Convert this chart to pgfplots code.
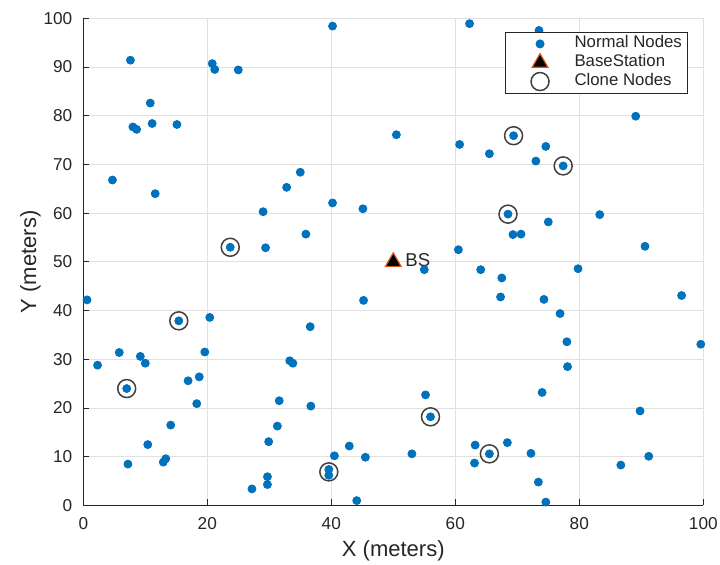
\documentclass[border=0pt]{standalone}
\usepackage{pgfplots}
\pgfplotsset{compat=1.18}
\usepackage{fontspec}
\setmainfont{Liberation Sans}
\definecolor{mblue}{rgb}{0,0.447,0.741}
\definecolor{morange}{rgb}{0.85,0.325,0.098}
\definecolor{mgray}{rgb}{0.15,0.15,0.15}
\pgfplotsset{legend image code/.code={\path (0pt,0pt) (31pt,0pt); \draw[#1] plot coordinates {(14pt,0pt)};}}

\begin{document}
\begin{tikzpicture}
\useasboundingbox (-41.65pt,-29.75pt) rectangle (318.35pt,252.75pt);
\begin{axis}[
    at={(0,0)}, anchor=south west,
    scale only axis,
    width=310pt, height=243.6pt,
    xmin=0, xmax=100, ymin=0, ymax=100,
    xtick={0,20,...,100},
    ytick={0,10,...,100},
    axis x line*=bottom, axis y line*=left,
    axis line style={mgray, line width=0.6pt, -},
    tick style={mgray, line width=0.5pt},
    tick align=inside, major tick length=3pt,
    grid=major, grid style={black!12, line width=0.5pt},
    ticklabel style={font=\fontsize{8.6}{10}\selectfont, text=mgray},
    xticklabel style={yshift=-2.5pt},
    yticklabel style={xshift=-2pt},
    /pgf/number format/assume math mode=true,
    xlabel={X (meters)}, ylabel={Y (meters)},
    label style={font=\fontsize{11}{13}\selectfont, text=mgray},
    ylabel style={yshift=-5.5pt},
    xlabel style={yshift=1.5pt},
    legend style={at={(0.976,0.972)}, anchor=north east, draw=mgray,
        line width=0.5pt, fill=white, font=\fontsize{8.4}{9.2}\selectfont,
        text=mgray, inner xsep=3pt, inner ysep=1.2pt, row sep=0.3pt,
        nodes={inner sep=0pt, text height=6.5pt, text depth=2.6pt}},
    legend cell align=left,
]
\addplot[only marks, mark=*, mark size=2pt, mblue,
    mark options={draw=mblue, fill=mblue}]
coordinates {
    (7.6,91.4) (8.0,77.7) (8.6,77.2) (10.8,82.6) (11.1,78.4) (15.1,78.2)
    (20.8,90.7) (21.2,89.5) (25.0,89.4) (4.7,66.8) (40.2,98.4) (50.5,76.1)
    (60.7,74.1) (35.0,68.4) (62.3,98.9) (73.5,97.5) (89.1,79.9) (69.4,75.9)
    (65.5,72.2) (74.6,73.7) (73.0,70.7) (77.4,69.7) (11.6,64.0) (23.7,53.0)
    (0.6,42.2) (15.4,37.9) (20.4,38.6) (32.8,65.3) (40.2,62.1) (45.1,60.9)
    (29.0,60.3) (35.9,55.7) (29.4,52.9) (60.5,52.5) (55.0,48.4) (45.2,42.1)
    (36.6,36.7) (68.5,59.8) (75.0,58.2) (83.3,59.7) (69.3,55.6) (70.6,55.7)
    (90.6,53.2) (79.8,48.6) (64.1,48.4) (67.5,46.7) (67.3,42.8) (74.3,42.3)
    (76.9,39.4) (96.5,43.1) (78.0,33.6) (99.6,33.1) (2.3,28.8) (5.8,31.4)
    (9.2,30.6) (10.0,29.2) (7.0,24.0) (19.6,31.5) (16.9,25.6) (18.7,26.4)
    (18.3,20.9) (14.1,16.5) (10.4,12.5) (12.9,8.9) (13.3,9.6) (7.2,8.5)
    (33.3,29.7) (33.8,29.2) (31.6,21.5) (36.7,20.4) (31.3,16.3) (29.9,13.1)
    (40.5,10.2) (42.9,12.2) (45.5,9.9) (39.6,7.4) (39.6,6.2) (29.7,5.9)
    (29.7,4.3) (27.2,3.4) (44.1,1.0) (53.0,10.6) (55.2,22.7) (56.0,18.2)
    (78.1,28.5) (74.0,23.2) (89.8,19.4) (63.2,12.4) (65.5,10.6) (68.4,12.9)
    (63.1,8.7) (72.2,10.7) (91.2,10.1) (86.7,8.3) (73.4,4.8) (74.6,0.7)
};
\addlegendentry{Normal Nodes}
\addplot[only marks, mark=triangle*, mark size=4.5pt,
    mark options={fill=black, draw=morange, line width=0.6pt}]
coordinates {(50,50)};
\addlegendentry{BaseStation}
\addplot[only marks, mark=o, mark size=4.5pt,
    mark options={draw=black!75, line width=0.75pt}]
coordinates {
    (69.4,75.9) (77.4,69.7) (68.5,59.8) (23.7,53.0) (15.4,37.9)
    (7.0,24.0) (39.6,6.9) (56.0,18.2) (65.5,10.6)
};
\addlegendentry{Clone Nodes}
\node[anchor=west, font=\fontsize{9.3}{11}\selectfont, text=mgray, inner sep=0pt]
    at (axis cs:51.9,50.3) {BS};
\end{axis}
\end{tikzpicture}
\end{document}
